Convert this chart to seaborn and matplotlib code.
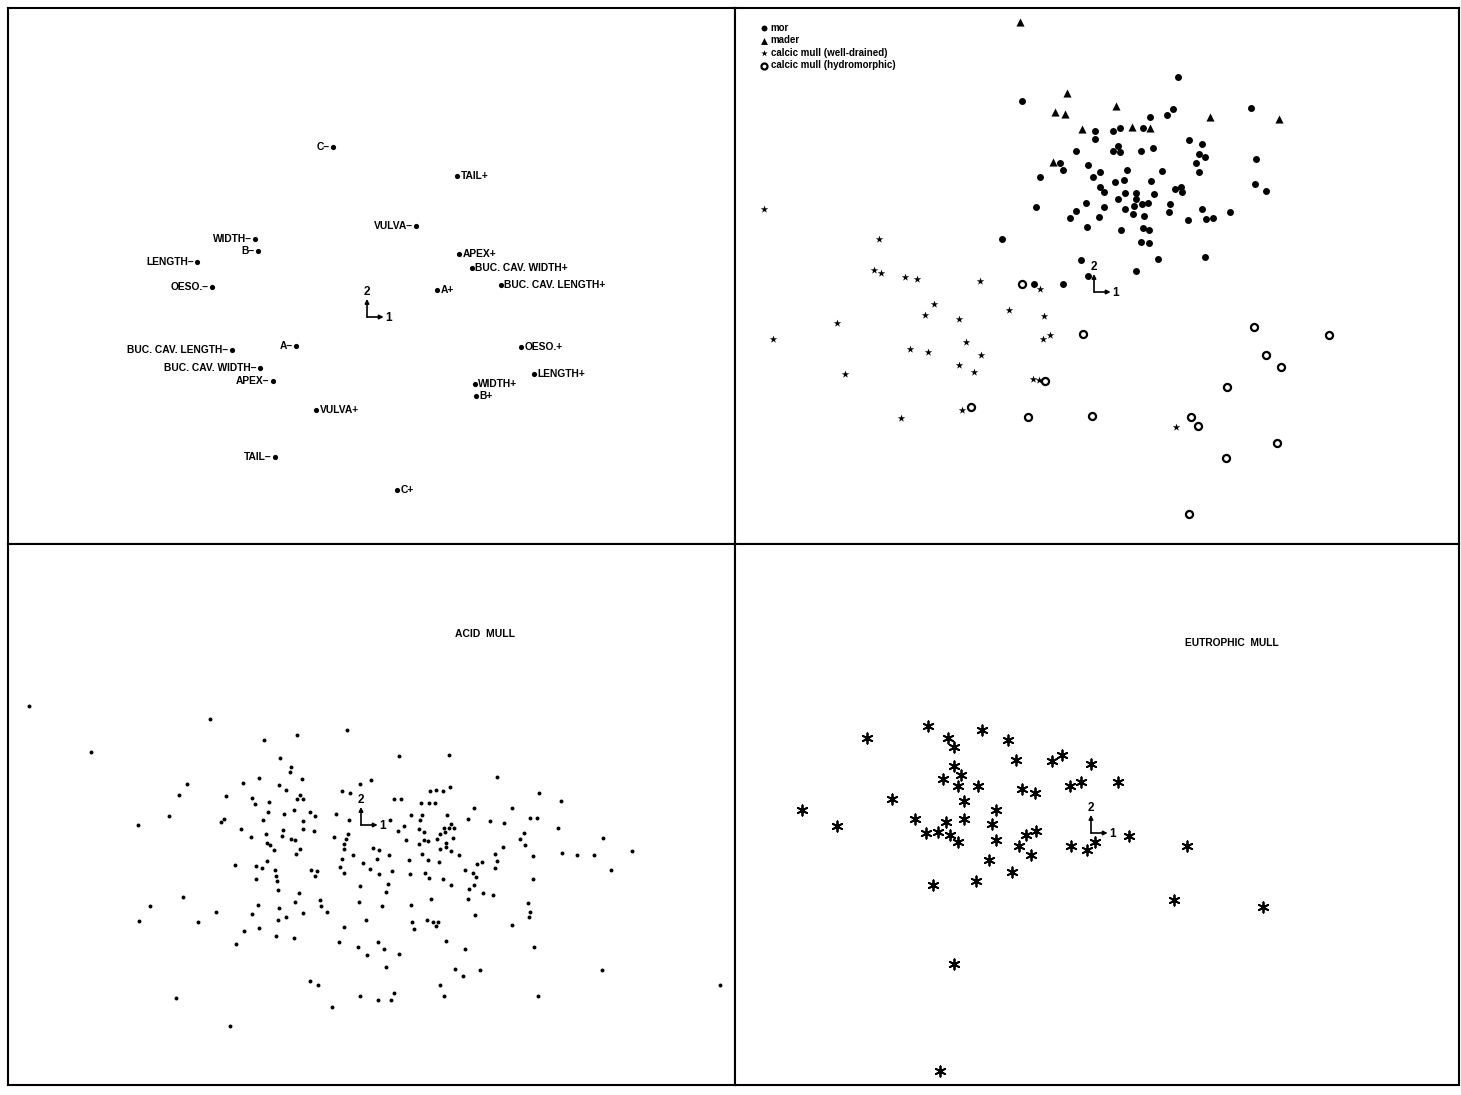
import matplotlib
matplotlib.use("Agg")
import matplotlib.pyplot as plt
import seaborn as sns

# --- top-left: variable categories (factor 1 / factor 2 scores) ---
var_labels = ["C–", "TAIL+", "VULVA–", "WIDTH–", "B–", "LENGTH–", "OESO.–", "APEX+",
              "BUC. CAV. WIDTH+", "BUC. CAV. LENGTH+", "A+", "A–", "BUC. CAV. LENGTH–",
              "BUC. CAV. WIDTH–", "APEX–", "OESO.+", "LENGTH+", "WIDTH+", "B+", "VULVA+",
              "TAIL–", "C+"]
var_f1 = [-0.34, 0.90, 0.49, -1.12, -1.09, -1.70, -1.55, 0.92, 1.05, 1.34, 0.70, -0.71,
          -1.35, -1.07, -0.94, 1.54, 1.67, 1.08, 1.09, -0.51, -0.92, 0.30]
var_f2 = [1.70, 1.41, 0.91, 0.78, 0.66, 0.55, 0.30, 0.63, 0.49, 0.32, 0.27, -0.29,
          -0.33, -0.51, -0.64, -0.30, -0.57, -0.67, -0.79, -0.93, -1.40, -1.73]

# --- top-right: humus types ---
mor_f1 = [0.84, -0.72, 0.79, 0.73, 0.56, 1.57, 0.01, 0.01, 0.19, 0.26,
          0.49, 0.95, 1.08, 0.24, 0.19, 0.26, 0.47, 0.59, -0.18, -0.34,
          -0.31, -0.06, -0.54, -0.01, 0.06, 0.33, 0.68, 1.05, 1.11, 1.02,
          1.05, 1.62, 0.21, 0.30, 0.57, 0.06, 0.10, 0.81, 0.87, 0.88,
          1.61, 1.72, -0.58, -0.08, -0.18, -0.24, 0.10, 0.05, 0.24, 0.31,
          0.42, 0.42, 0.40, 0.31, 0.48, 0.54, 0.60, 0.76, 0.75, 0.39,
          0.50, 1.08, 1.12, 1.19, 1.36, 0.94, -0.07, 0.27, 0.49, 0.55,
          0.47, 0.55, -0.92, -0.13, 0.64, 1.11, 0.42, -0.06, -0.60, -0.31]
mor_f2 = [2.15, 1.91, 1.83, 1.77, 1.75, 1.84, 1.61, 1.53, 1.61, 1.64,
          1.64, 1.52, 1.48, 1.46, 1.41, 1.40, 1.41, 1.44, 1.41, 1.29,
          1.22, 1.27, 1.15, 1.15, 1.20, 1.22, 1.21, 1.38, 1.35, 1.29,
          1.20, 1.33, 1.10, 1.12, 1.11, 1.05, 1.00, 1.03, 1.05, 1.00,
          1.08, 1.01, 0.85, 0.89, 0.81, 0.74, 0.85, 0.75, 0.93, 0.99,
          0.99, 0.93, 0.86, 0.83, 0.88, 0.89, 0.98, 0.88, 0.80, 0.78,
          0.76, 0.83, 0.73, 0.74, 0.80, 0.72, 0.65, 0.62, 0.64, 0.62,
          0.50, 0.49, 0.53, 0.32, 0.33, 0.35, 0.21, 0.16, 0.08, 0.08]

mader_f1 = [-0.74, -0.27, -0.39, -0.29, 0.22, -0.12, 0.38, 0.56, 1.16, 1.85, -0.41]
mader_f2 = [2.70, 1.99, 1.80, 1.78, 1.86, 1.63, 1.65, 1.64, 1.75, 1.73, 1.30]

drained_f1 = [-3.30, -2.15, -2.20, -2.13, -1.89, -1.77, -1.14, -0.54, -1.60, -1.69,
              -1.35, -0.85, -0.50, -2.57, -3.21, -0.51, -0.44, -1.28, -1.84, -1.66,
              -1.13, -1.35, -1.20, -2.49, -0.61, -0.55, -1.32, -1.93, 0.82]
drained_f2 = [0.83, 0.53, 0.22, 0.19, 0.15, 0.13, 0.11, 0.03, -0.12, -0.23,
              -0.27, -0.18, -0.24, -0.31, -0.47, -0.47, -0.43, -0.50, -0.57, -0.60,
              -0.63, -0.73, -0.80, -0.82, -0.87, -0.88, -1.18, -1.26, -1.35]

hydro_f1 = [-0.72, -0.49, -1.23, -0.66, -0.11, -0.02, 1.60, 2.35, 1.72, 1.87,
            1.33, 0.97, 1.04, 1.83, 1.32, 0.95]
hydro_f2 = [0.08, -0.89, -1.15, -1.25, -0.42, -1.24, -0.35, -0.43, -0.63, -0.75,
            -0.95, -1.25, -1.34, -1.51, -1.66, -2.22]

# --- bottom-left: acid mull ---
acid_f1 = [-0.97, -0.64, -0.81, -0.70, -0.71, -0.59, -1.18, -1.02, -0.82, -0.75,
           -1.74, -1.82, -1.35, -1.09, -1.06, -0.92, -0.64, -0.58, -0.61, -1.92,
           -2.23, -1.37, -1.40, -0.93, -0.98, -0.77, -0.67, -0.51, -0.46, -0.58,
           -0.58, -0.47, -1.20, -1.10, -0.95, -0.78, -0.79, -0.70, -0.66, -0.94,
           -0.91, -0.87, -0.61, -0.65, -1.26, -1.05, -0.99, -0.94, -0.86, -0.85,
           -0.84, -1.05, -0.50, -0.44, -0.46, -0.83, -0.62, -0.66, -1.78, -2.11,
           -2.22, -1.63, -1.45, -1.03, -1.09, -0.82, -0.83, -0.75, -0.58, -0.41,
           -0.40, -0.34, -1.17, -1.02, -0.85, -0.67, -1.25, -0.51, -0.43, -1.85,
           -1.51, -3.32, -2.70, -1.31,
           -0.14, 0.38, 0.88, 1.36, -0.01, 0.10, -0.19, -0.11, 0.33, 0.40,
           0.69, 0.75, 0.82, 0.89, 0.60, 0.68, 0.74, 1.78, 2.00, 1.13,
           1.51, -0.25, -0.12, 0.29, 0.50, 0.61, 0.86, 1.07, 1.29, 1.43,
           1.69, 1.76, 1.97, 2.42, 2.71, -0.27, -0.13, -0.15, -0.17, -0.17,
           0.37, 0.43, 0.58, 0.63, 0.45, 0.59, 0.79, 0.83, 0.90, 0.88,
           0.93, 0.76, 0.84, 0.92, 0.63, 0.67, 0.58, 0.85, 0.85, 0.79,
           0.12, 0.18, -0.08, 0.28, 0.16, -0.19, -0.21, -0.17, 0.02, 0.09,
           0.18, 0.31, 0.48, 0.61, 0.67, 0.78, 0.90, 0.98, 0.49, 0.64,
           0.68, 0.82, 0.90, 1.04, 1.16, 1.21, 1.12, 1.15, 1.34, 1.36,
           1.34, 1.42, 1.59, 1.63, 1.64, 1.72, 2.01, 2.16, 2.33, 2.50,
           1.72, -0.01, 0.27, 0.25, -0.02, 0.21, 0.50, 0.70, 1.08, 1.13,
           1.22, 1.32, 1.07, 1.14, 1.67, 1.69, 1.68, 1.51, 0.05, -0.17,
           0.51, 0.53, 0.66, 0.72, 0.77, 0.75, -0.22, -0.03, 0.06, 0.17,
           0.23, 0.38, 0.85, 1.04, 1.73, 0.25, 0.94, 1.02, 1.19, 2.41,
           0.79, -0.01, 0.17, 0.30, 0.33, 0.83, 1.77, -0.29, 3.59]
acid_f2 = [0.85, 0.90, 0.67, 0.58, 0.53, 0.46, 0.42, 0.47, 0.40, 0.35,
           0.41, 0.30, 0.29, 0.27, 0.21, 0.23, 0.26, 0.26, 0.30, 0.09,
           0.00, 0.06, 0.03, 0.13, 0.05, 0.11, 0.15, 0.13, 0.09, 0.04,
           -0.04, -0.06, -0.04, -0.12, -0.09, -0.05, -0.11, -0.14, -0.15, -0.18,
           -0.20, -0.25, -0.24, -0.29, -0.40, -0.41, -0.43, -0.36, -0.45, -0.51,
           -0.56, -0.54, -0.45, -0.46, -0.51, -0.65, -0.68, -0.77, -0.72, -0.81,
           -0.96, -0.97, -0.87, -0.80, -0.89, -0.83, -0.95, -0.92, -0.88, -0.75,
           -0.81, -0.87, -1.06, -1.03, -1.11, -1.13, -1.19, -1.56, -1.60, -1.73,
           1.06, 1.19, 0.73, -2.01,
           0.95, 0.69, 0.70, 0.48, 0.41, 0.45, 0.34, 0.32, 0.26, 0.26,
           0.34, 0.35, 0.34, 0.38, 0.22, 0.22, 0.22, 0.32, 0.24, 0.17,
           0.17, 0.11, 0.05, 0.05, 0.10, 0.10, 0.10, 0.06, 0.04, 0.02,
           0.07, 0.07, -0.03, -0.13, -0.26, -0.12, -0.09, -0.14, -0.19, -0.24,
           -0.06, -0.01, -0.04, -0.07, -0.15, 0.05, -0.09, -0.03, 0.01, -0.03,
           -0.03, -0.14, -0.07, -0.13, -0.15, -0.16, -0.19, -0.18, -0.22, -0.24,
           -0.23, -0.25, -0.30, -0.30, -0.34, -0.34, -0.42, -0.48, -0.38, -0.44,
           -0.49, -0.46, -0.35, -0.29, -0.35, -0.37, -0.26, -0.30, -0.49, -0.48,
           -0.53, -0.54, -0.60, -0.45, -0.39, -0.37, -0.48, -0.52, -0.29, -0.36,
           -0.43, -0.22, -0.14, -0.08, -0.20, -0.31, -0.28, -0.30, -0.30, -0.45,
           -0.54, -0.61, -0.59, -0.67, -0.77, -0.81, -0.80, -0.74, -0.64, -0.60,
           -0.68, -0.70, -0.74, -0.90, -0.78, -0.87, -0.92, -1.00, -0.95, -1.02,
           -0.97, -1.04, -0.95, -0.97, -0.97, -1.01, -1.17, -1.22, -1.30, -1.17,
           -1.24, -1.29, -1.16, -1.24, -1.22, -1.42, -1.44, -1.51, -1.45, -1.45,
           -1.60, -1.71, -1.75, -1.75, -1.68, -1.71, -1.71, -1.82, -1.60]

# --- bottom-right: eutrophic mull ---
eutro_f1 = [-1.63, -2.24, -1.09, -1.43, -1.37, -0.83, -0.75, -0.39, -0.29, 0.00,
            -1.37, -1.30, -1.48, -1.33, -1.13, -0.69, -0.56, -0.21, -0.10, 0.27,
            -1.99, -2.89, -2.54, -1.27, -0.95, -1.76, -1.27, -1.45, -0.99, -1.65,
            -1.53, -1.41, -1.33, -0.95, -0.65, -0.55, -0.72, -0.60, -0.20, -0.04,
            0.04, 0.38, -1.02, -0.79, -1.15, -1.58, 0.96, 0.83, 1.72, -1.37, -1.51]
eutro_f2 = [1.07, 0.95, 1.03, 0.95, 0.86, 0.93, 0.73, 0.72, 0.78, 0.69,
            0.67, 0.58, 0.54, 0.47, 0.47, 0.44, 0.40, 0.47, 0.51, 0.51,
            0.34, 0.23, 0.07, 0.32, 0.23, 0.14, 0.14, 0.11, 0.09, 0.00,
            0.01, -0.02, -0.09, -0.07, -0.02, 0.02, -0.13, -0.22, -0.13, -0.17,
            -0.09, -0.03, -0.27, -0.39, -0.48, -0.52, -0.13, -0.67, -0.74, -1.31, -2.38]

FONT = ["Liberation Sans Narrow", "Liberation Sans", "DejaVu Sans"]

sns.set_theme(style="white")
plt.rcParams["font.family"] = FONT
plt.rcParams["font.weight"] = "bold"
plt.rcParams["text.color"] = "black"

W, H = 1461, 1095
fig = plt.figure(figsize=(W / 100, H / 100), dpi=100)


def make_ax(x0, y0, x1, y1, xlim, ylim):
    ax = fig.add_axes([x0 / W, 1 - y1 / H, (x1 - x0) / W, (y1 - y0) / H])
    ax.set_xlim(*xlim)
    ax.set_ylim(*ylim)
    ax.set_xticks([])
    ax.set_yticks([])
    for sp in ax.spines.values():
        sp.set_color("black")
        sp.set_linewidth(1.5)
    return ax


def draw_key(ax):
    # small "2 up / 1 right" key drawn at the origin of each plane
    arr = dict(arrowstyle="<|-", color="black", lw=1.2, mutation_scale=6,
               shrinkA=0, shrinkB=0)
    ax.annotate("", xy=(0, 0), xycoords="data", xytext=(0, 13),
                textcoords="offset points", arrowprops=arr)
    ax.annotate("", xy=(0, 0), xycoords="data", xytext=(12, 0),
                textcoords="offset points", arrowprops=arr)
    ax.annotate("2", xy=(0, 0), xytext=(0, 18), textcoords="offset points",
                ha="center", va="center", fontsize=8.5, fontweight="bold")
    ax.annotate("1", xy=(0, 0), xytext=(15.5, -0.5), textcoords="offset points",
                ha="center", va="center", fontsize=8.5, fontweight="bold")


# ---------------- top-left ----------------
ax1 = make_ax(8, 8, 735, 544, (-3.59, 3.68), (-2.27, 3.09))
sns.scatterplot(x=var_f1, y=var_f2, ax=ax1, color="black", s=14, edgecolor="black",
                linewidth=0, legend=False)
for lab, xv, yv in zip(var_labels, var_f1, var_f2):
    if lab.endswith("–"):
        ax1.annotate(lab, (xv, yv), xytext=(-2.5, 0), textcoords="offset points",
                     ha="right", va="center", fontsize=7.4, fontweight="bold")
    else:
        ax1.annotate(lab, (xv, yv), xytext=(2.5, 0), textcoords="offset points",
                     ha="left", va="center", fontsize=7.4, fontweight="bold")
draw_key(ax1)

# ---------------- top-right ----------------
ax2 = make_ax(735, 8, 1459, 544, (-3.59, 3.65), (-2.52, 2.84))
sns.scatterplot(x=mor_f1, y=mor_f2, ax=ax2, color="black", marker="o", s=25,
                edgecolor="black", linewidth=0, label="mor")
sns.scatterplot(x=mader_f1, y=mader_f2, ax=ax2, color="black", marker="^", s=34,
                edgecolor="black", linewidth=0, label="mader")
sns.scatterplot(x=drained_f1, y=drained_f2, ax=ax2, color="black", marker="*", s=32,
                edgecolor="black", linewidth=0, label="calcic mull (well-drained)")
sns.scatterplot(x=hydro_f1, y=hydro_f2, ax=ax2, color="white", marker="o", s=26,
                edgecolor="black", linewidth=1.6, label="calcic mull (hydromorphic)")
ax2.legend(loc="upper left", bbox_to_anchor=(0.034, 0.972), frameon=False,
           handletextpad=0.35, labelspacing=0.25, borderaxespad=0,
           handlelength=0.8, borderpad=0, markerscale=0.85,
           prop=dict(family=FONT, weight="bold", size=7.0))
draw_key(ax2)

# ---------------- bottom-left ----------------
ax3 = make_ax(8, 544, 735, 1085, (-3.53, 3.74), (-2.60, 2.81))
sns.scatterplot(x=acid_f1, y=acid_f2, ax=ax3, color="black", s=8, edgecolor="black",
                linewidth=0, legend=False)
ax3.text(0.656, 0.834, "ACID  MULL", transform=ax3.transAxes, ha="center", va="center",
         fontsize=7.5, fontweight="bold")
draw_key(ax3)

# ---------------- bottom-right ----------------
ax4 = make_ax(735, 544, 1459, 1085, (-3.56, 3.68), (-2.52, 2.89))
sns.scatterplot(x=eutro_f1, y=eutro_f2, ax=ax4, color="black", marker=(6, 2, 0), s=55,
                edgecolor="black", linewidth=1.3, legend=False)
ax4.text(0.686, 0.817, "EUTROPHIC  MULL", transform=ax4.transAxes, ha="center",
         va="center", fontsize=7.4, fontweight="bold")
draw_key(ax4)

fig.savefig("out.png", dpi=100, facecolor="white")
